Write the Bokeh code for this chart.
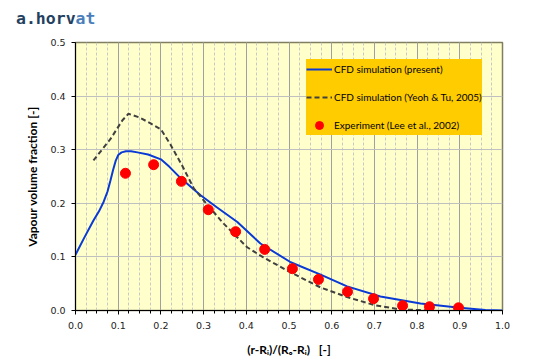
from bokeh.plotting import figure
from bokeh.layouts import column
from bokeh.models import (SingleIntervalTicker, Legend, LegendItem, Div,
                          NumeralTickFormatter, Range1d)
from bokeh.embed import file_html
from bokeh.resources import INLINE

# CFD simulation (present)
cfd_x = [0.0, 0.02, 0.042, 0.055, 0.066, 0.075, 0.082, 0.088, 0.094, 0.10, 0.108,
         0.118, 0.13, 0.145, 0.17, 0.2, 0.22, 0.246, 0.293, 0.33, 0.379, 0.433,
         0.504, 0.574, 0.636, 0.714, 0.808, 0.9, 0.96, 1.0]
cfd_y = [0.104, 0.135, 0.168, 0.185, 0.203, 0.222, 0.243, 0.262, 0.279, 0.29, 0.295,
         0.297, 0.297, 0.295, 0.291, 0.282, 0.268, 0.247, 0.215, 0.193, 0.165, 0.125,
         0.09, 0.067, 0.045, 0.026, 0.013, 0.005, 0.001, 0.0]

# CFD simulation (Yeoh & Tu, 2005)
yt_x = [0.042, 0.082, 0.11, 0.124, 0.15, 0.176, 0.2, 0.222, 0.25, 0.277, 0.308,
        0.347, 0.402, 0.44, 0.504, 0.574, 0.636, 0.70, 0.76, 0.84]
yt_y = [0.28, 0.32, 0.355, 0.367, 0.36, 0.349, 0.338, 0.31, 0.27, 0.228, 0.198,
        0.162, 0.118, 0.099, 0.071, 0.043, 0.025, 0.01, 0.002, 0.0]

# Experiment (Lee et al., 2002)
exp_x = [0.117, 0.183, 0.248, 0.311, 0.375, 0.443, 0.508, 0.569, 0.637, 0.698,
         0.766, 0.829, 0.897]
exp_y = [0.256, 0.272, 0.241, 0.188, 0.147, 0.114, 0.078, 0.058, 0.035, 0.022,
         0.009, 0.007, 0.005]

title_parts = ["a.horv", "at"]
x_label = "(r-R\u1d62)/(R\u2092-R\u1d62)\u00a0\u00a0\u00a0[-]"
y_label = "Vapour volume fraction [-]"
legend_labels = ["CFD simulation (present)", "CFD simulation (Yeoh & Tu, 2005)",
                 "Experiment (Lee et al., 2002)"]

p = figure(output_backend="svg", toolbar_location=None,
           frame_width=427, frame_height=268,
           min_border_left=75, min_border_right=50, min_border_top=12, min_border_bottom=50,
           x_range=Range1d(0, 1), y_range=Range1d(0, 0.5))
p.background_fill_color = "#FFFFCC"
p.border_fill_color = "white"
p.outline_line_color = "#7F7F5F"
p.outline_line_width = 1.5

p.xaxis.ticker = SingleIntervalTicker(interval=0.1, num_minor_ticks=4)
p.yaxis.ticker = SingleIntervalTicker(interval=0.1, num_minor_ticks=0)
p.xaxis.formatter = NumeralTickFormatter(format="0.0")
p.yaxis.formatter = NumeralTickFormatter(format="0.0")

for ax in (p.xaxis, p.yaxis):
    ax.axis_line_color = "black"
    ax.major_tick_line_color = "black"
    ax.minor_tick_line_color = "black"
    ax.major_tick_out = 4
    ax.major_tick_in = 0
    ax.minor_tick_out = 3
    ax.minor_tick_in = 0
    ax.major_label_text_font = "DejaVu Sans"
    ax.major_label_text_font_size = "9.5px"
    ax.major_label_text_color = "#222222"
    ax.axis_label_text_font = "Lato"
    ax.axis_label_text_font_style = "bold"
    ax.axis_label_text_font_size = "12px"
    ax.axis_label_text_color = "black"
p.yaxis.minor_tick_line_color = None
p.xaxis.major_label_standoff = 7
p.yaxis.major_label_standoff = 6
p.xaxis.axis_label = x_label
p.yaxis.axis_label = y_label
p.xaxis.axis_label_standoff = 10
p.yaxis.axis_label_standoff = 7

p.xgrid.grid_line_color = "#A0A0A0"
p.xgrid.grid_line_width = 1
p.xgrid.minor_grid_line_color = "#C8C8C8"
p.xgrid.minor_grid_line_dash = "3 2"
p.ygrid.grid_line_color = "#C0C0C0"

r1 = p.line(cfd_x, cfd_y, line_color="#0A3AD6", line_width=2)
r2 = p.line(yt_x, yt_y, line_color="#404040", line_width=2, line_dash="5 3")
r3 = p.scatter(exp_x, exp_y, size=10, fill_color="#FF0000", line_color="#FF0000")

legend = Legend(items=[LegendItem(label=legend_labels[0], renderers=[r1]),
                       LegendItem(label=legend_labels[1], renderers=[r2]),
                       LegendItem(label=legend_labels[2], renderers=[r3])],
                location=(231, 175))
legend.background_fill_color = "#FFCC00"
legend.background_fill_alpha = 1
legend.border_line_color = None
legend.label_text_font = "Lato"
legend.label_text_font_size = "10px"
legend.label_text_color = "black"
legend.glyph_width = 26
legend.glyph_height = 20
legend.spacing = 8
legend.padding = 10
legend.label_standoff = 2
legend.margin = 0
p.add_layout(legend, "center")

title_html = (
    '<span style="color:#243F60">%s</span><span style="color:#4A7EBB">%s</span>'
    % (title_parts[0], title_parts[1])
)
div = Div(text=title_html, width=544, height=30, margin=(0, 0, 0, 0),
          styles={"font-family": "'DejaVu Sans Mono', monospace", "font-weight": "bold",
                  "font-size": "16.5px", "line-height": "30px", "padding-left": "16px",
                  "padding-top": "4px", "white-space": "pre"})

layout = column(div, p, spacing=0)
open("out.html", "w").write(file_html(layout, INLINE))
